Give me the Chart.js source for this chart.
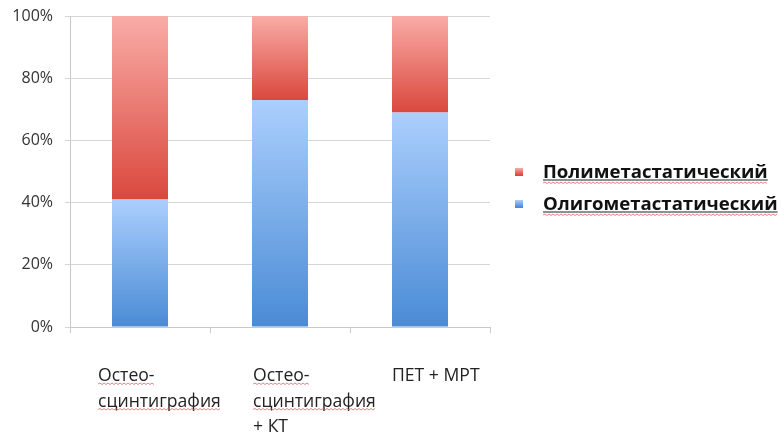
<!DOCTYPE html>
<html><head><meta charset="utf-8">
<script src="https://cdn.jsdelivr.net/npm/chart.js@4"></script>
<style>html,body{margin:0;padding:0;background:#fff}</style></head>
<body><canvas id="c" width="778" height="434"></canvas>
<script>
const categories = [["Остео-","сцинтиграфия"],["Остео-","сцинтиграфия","+ КТ"],["ПЕТ + МРТ"]];
const oligo = [41, 73, 69];
const poly = [59, 27, 31];
const seriesNames = ["Олигометастатический","Полиметастатический"];
const yTicks = [0, 20, 40, 60, 80, 100];
const misspelled = ["Остео-","сцинтиграфия","Полиметастатический","Олигометастатический"];
const labelOffsets = [-42, -27, -28];

const FONT = '"Open Sans", "Noto Sans", sans-serif';
const BLUE = ['#abcffd', '#4a8bd5'];
const RED = ['#f9aca7', '#da483d'];

function segGradient(ctx, colors, upper){
  const chart = ctx.chart;
  if (!chart.chartArea || ctx.type !== 'data') return colors[1];
  const y = chart.scales.y, i = ctx.dataIndex;
  const lo = upper ? oligo[i] : 0;
  const hi = upper ? oligo[i] + poly[i] : oligo[i];
  const g = chart.ctx.createLinearGradient(0, y.getPixelForValue(hi), 0, y.getPixelForValue(lo));
  g.addColorStop(0, colors[0]); g.addColorStop(1, colors[1]);
  return g;
}

function wavy(c, x1, x2, y){
  c.save();
  c.strokeStyle = 'rgba(226,90,90,0.75)';
  c.lineWidth = 1;
  c.beginPath();
  let up = true;
  c.moveTo(x1, y);
  for (let x = x1 + 2; x <= x2; x += 2){ c.lineTo(x, up ? y - 1 : y + 0.5); up = !up; }
  c.stroke();
  c.restore();
}

const overlay = {
  id: 'overlay',
  afterDraw(chart){
    const c = chart.ctx, x = chart.scales.x;
    c.save();
    c.font = '17.6px ' + FONT;
    c.fillStyle = '#222';
    c.textAlign = 'left';
    c.textBaseline = 'alphabetic';
    categories.forEach((lines, i) => {
      const lx = x.getPixelForValue(i) + labelOffsets[i];
      lines.forEach((t, j) => {
        const by = 381 + j * 25.5;
        c.fillText(t, lx, by);
        if (misspelled.includes(t)) wavy(c, lx, lx + c.measureText(t).width, by + 3);
      });
    });
    const items = [[seriesNames[1], RED, 178], [seriesNames[0], BLUE, 210]];
    items.forEach(([name, col, by]) => {
      const g = c.createLinearGradient(0, by - 10, 0, by - 3);
      g.addColorStop(0, col[0]); g.addColorStop(1, col[1]);
      c.fillStyle = g;
      c.fillRect(515, by - 10, 8, 8);
      c.font = 'bold 18.6px ' + FONT;
      c.fillStyle = '#111';
      c.fillText(name, 543, by);
      const w = c.measureText(name).width;
      c.fillStyle = '#222';
      c.fillRect(543, by + 1.5, w, 1);
      wavy(c, 543, 543 + w, by + 5);
    });
    c.restore();
  }
};

new Chart(document.getElementById('c'), {
  type: 'bar',
  data: {
    labels: categories.map(l => l.join(' ')),
    datasets: [
      { label: seriesNames[0], data: oligo, backgroundColor: ctx => segGradient(ctx, BLUE, false), borderWidth: 0 },
      { label: seriesNames[1], data: poly, backgroundColor: ctx => segGradient(ctx, RED, true), borderWidth: 0 }
    ]
  },
  options: {
    responsive: false,
    animation: false,
    devicePixelRatio: 1,
    layout: { padding: { top: 16, right: 288, left: 0, bottom: 0 } },
    datasets: { bar: { categoryPercentage: 1, barPercentage: 0.4 } },
    plugins: { legend: { display: false }, tooltip: { enabled: false } },
    scales: {
      x: {
        stacked: true,
        offset: true,
        grid: { drawOnChartArea: false, drawTicks: true, tickLength: 6, color: '#c9c9c9', offset: true },
        border: { color: '#c9c9c9' },
        ticks: { display: false },
        afterFit: s => { s.height = 107; s.paddingLeft = 0; s.paddingRight = 0; }
      },
      y: {
        stacked: true,
        min: 0, max: 100,
        afterBuildTicks: s => { s.ticks = yTicks.map(v => ({ value: v })); },
        ticks: { callback: v => v + '%', font: { size: 16, family: FONT }, color: '#333', padding: 12 },
        grid: { color: '#d6d6d6', tickLength: 5 },
        border: { color: '#c9c9c9' },
        afterFit: s => { s.width = 70; s.paddingTop = 0; s.paddingBottom = 0; }
      }
    }
  },
  plugins: [overlay]
});
</script>
</body></html>
